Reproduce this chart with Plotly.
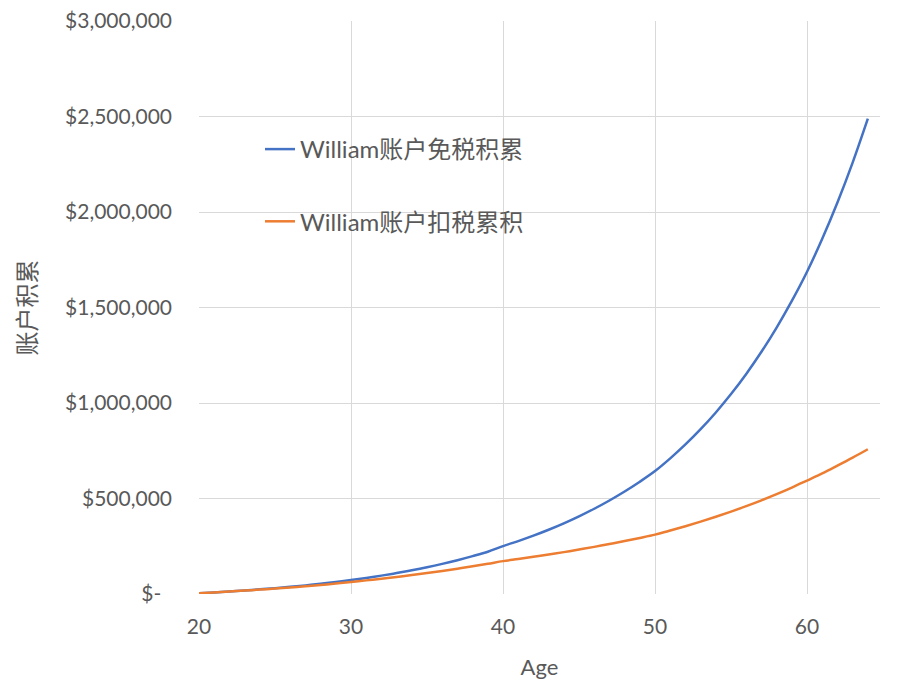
import plotly.graph_objects as go

ages = list(range(20, 65))

tax_free = [
    4000, 8400, 13200, 18500, 24300, 30600, 37600, 45200, 53600, 62800,
    72900, 84000, 96200, 109500, 124100, 140100, 157700, 177000, 198200, 221400,
    251000, 277000, 305400, 336300, 369900, 406500, 446300, 489600, 536700, 587900,
    643600, 710000, 782900, 862800, 950500, 1046700, 1152200, 1268000, 1395000, 1534300,
    1687100, 1859800, 2049800, 2258800, 2488700,
]

taxed = [
    4000, 8300, 12900, 17800, 23000, 28500, 34400, 40600, 47300, 54600,
    63000, 71300, 80100, 89400, 99200, 109700, 120800, 132500, 145000, 158100,
    172100, 183000, 194500, 206600, 219300, 232700, 246800, 261600, 277200, 293600,
    310900, 332200, 354800, 378800, 404300, 431400, 460100, 490600, 523000, 557400,
    594000, 631000, 672000, 714000, 758000,
]

series_names = ["William账户免税积累", "William账户扣税累积"]
series_colors = ["#4472C4", "#ED7D31"]

y_tickvals = [0, 500000, 1000000, 1500000, 2000000, 2500000, 3000000]
y_ticktext = ["$-\u00a0\u00a0", "$500,000", "$1,000,000", "$1,500,000", "$2,000,000", "$2,500,000", "$3,000,000"]
x_tickvals = [20, 30, 40, 50, 60]

FONT = "Lato, 'Noto Sans CJK SC', sans-serif"
GRAY = "#595959"

fig = go.Figure()
for i, (name, vals) in enumerate(zip(series_names, [tax_free, taxed])):
    fig.add_trace(go.Scatter(
        x=ages, y=vals, mode="lines", name=name,
        line=dict(color=series_colors[i], width=2.5, shape="spline"),
        legendgroup=f"g{i}",
    ))

fig.update_layout(
    width=892, height=692,
    margin=dict(l=191, r=20, t=13, b=106),
    paper_bgcolor="white", plot_bgcolor="white",
    font=dict(family=FONT, size=21, color=GRAY),
    showlegend=True,
    legend=dict(
        x=0.0896, y=0.815, xanchor="left", yanchor="top",
        bgcolor="rgba(0,0,0,0)",
        font=dict(family=FONT, size=24, color=GRAY),
        tracegroupgap=38,
    ),
    xaxis=dict(
        range=[20, 64.8], tickvals=x_tickvals,
        showgrid=True, gridcolor="#d9d9d9", gridwidth=1,
        zeroline=False, showline=False, ticks="",
        automargin=False, ticklabelstandoff=18,
        tickfont=dict(size=21, color=GRAY),
        title=dict(text="Age", font=dict(size=22, color=GRAY), standoff=22),
    ),
    yaxis=dict(
        range=[0, 3000000], tickvals=y_tickvals, ticktext=y_ticktext,
        showgrid=True, gridcolor="#d9d9d9", gridwidth=1,
        zeroline=False, showline=False, ticks="",
        automargin=False, ticklabelstandoff=26,
        ticklabeloverflow="allow",
        tickfont=dict(size=21, color=GRAY),
        title=dict(text="账户积累", font=dict(family="'Noto Sans CJK SC', sans-serif", size=24, color=GRAY), standoff=29),
    ),
)

fig.write_html("out.html")
